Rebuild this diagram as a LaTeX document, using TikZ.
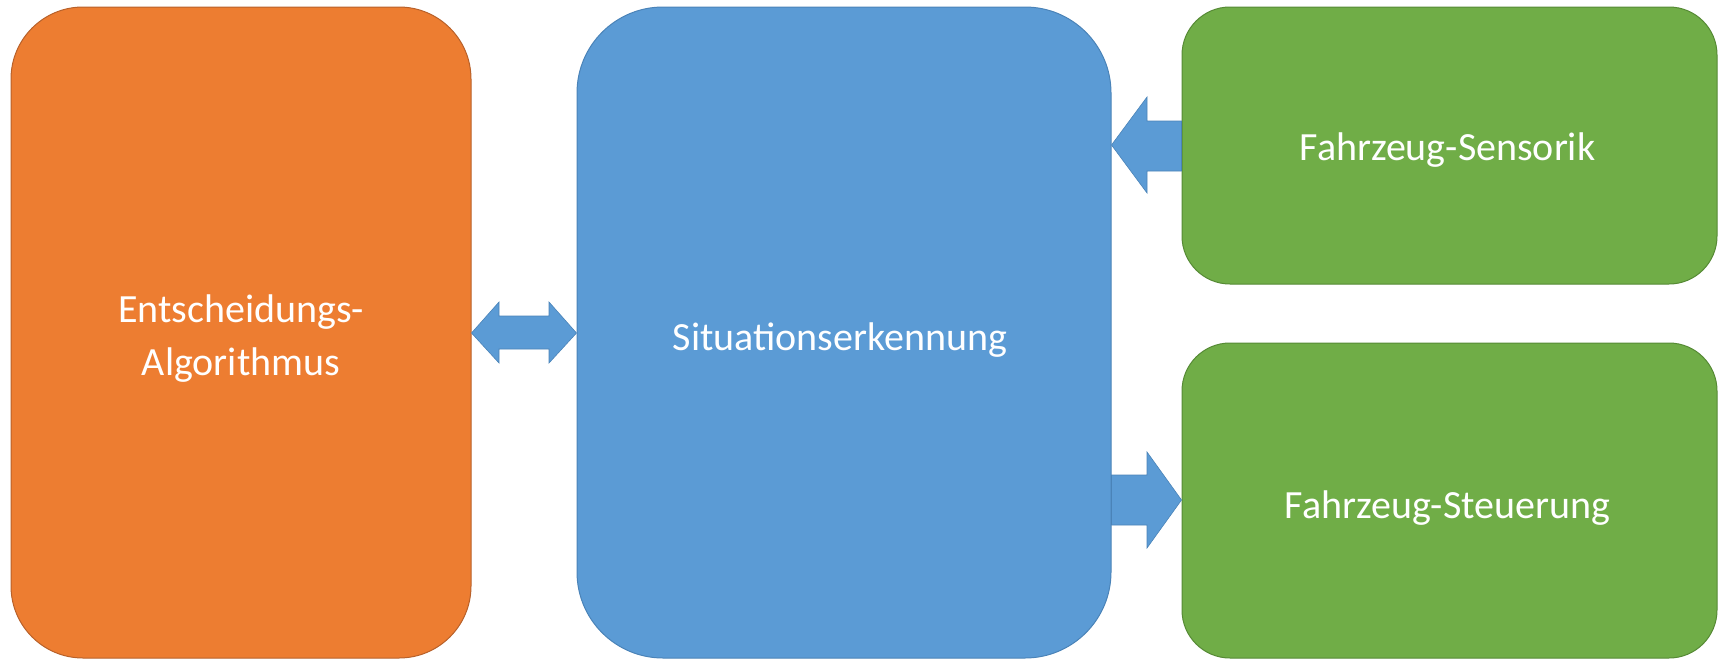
\documentclass[tikz,border=0pt]{standalone}
\usepackage{fontspec}
\setmainfont{Carlito}
\usetikzlibrary{calc}
\definecolor{cOrange}{HTML}{ED7D31}
\definecolor{cOrangeB}{HTML}{B8612A}
\definecolor{cBlue}{HTML}{5B9BD5}
\definecolor{cBlueB}{HTML}{4A83B8}
\definecolor{cGreen}{HTML}{70AD47}
\definecolor{cGreenB}{HTML}{568A35}
\begin{document}
\begin{tikzpicture}[x=1pt,y=-1pt,
  box/.style={draw, line width=1pt, inner sep=0pt},
  orangebox/.style={box, fill=cOrange, draw=cOrangeB, rounded corners=72pt},
  bluebox/.style={box, fill=cBlue, draw=cBlueB, rounded corners=86pt},
  greenbox/.style={box, fill=cGreen, draw=cGreenB, rounded corners=48pt},
  boxtext/.style={text=white, align=center, inner sep=0pt,
    font=\fontsize{40}{53}\selectfont},
  blockarrow/.style={fill=cBlue, draw=cBlueB, line width=0.6pt, line join=miter}
]
\useasboundingbox (0,0) rectangle (1721,659);
\node[orangebox, minimum width=460pt, minimum height=651pt] (L) at (241,332.5) {};
\node[bluebox, minimum width=534pt, minimum height=651pt] (M) at (844,332.5) {};
\node[greenbox, minimum width=535pt, minimum height=277pt] (S) at (1449.5,145.5) {};
\node[greenbox, minimum width=535pt, minimum height=315pt] (T) at (1449.5,500.5) {};
\node[boxtext] (Lt) at ([yshift=-6pt]L.center) {Entscheidungs-\\Algorithmus};
\node[boxtext] (Mt) at ([yshift=-8pt,xshift=-4pt]M.center) {Situationserkennung};
\node[boxtext] (St) at ([yshift=-5pt,xshift=-2pt]S.center) {Fahrzeug-Sensorik};
\node[boxtext] (Tt) at ([yshift=-8pt,xshift=-2pt]T.center) {Fahrzeug-Steuerung};
% double arrow between L and M
\draw[blockarrow] (L.east |- 0,333) -- (499,302) -- (499,316) -- (549,316) -- (549,302)
  -- (M.west |- 0,333) -- (549,363) -- (549,349) -- (499,349) -- (499,363) -- cycle;
% S -> M
\draw[blockarrow] (S.west |- 0,121) -- (1147,121) -- (1147,97) -- (M.east |- 0,145)
  -- (1147,193) -- (1147,171) -- (S.west |- 0,171) -- cycle;
% M -> T
\draw[blockarrow] (M.east |- 0,475) -- (1147,475) -- (1147,452) -- (T.west |- 0,500)
  -- (1147,548) -- (1147,525) -- (M.east |- 0,525) -- cycle;
\end{tikzpicture}
\end{document}
